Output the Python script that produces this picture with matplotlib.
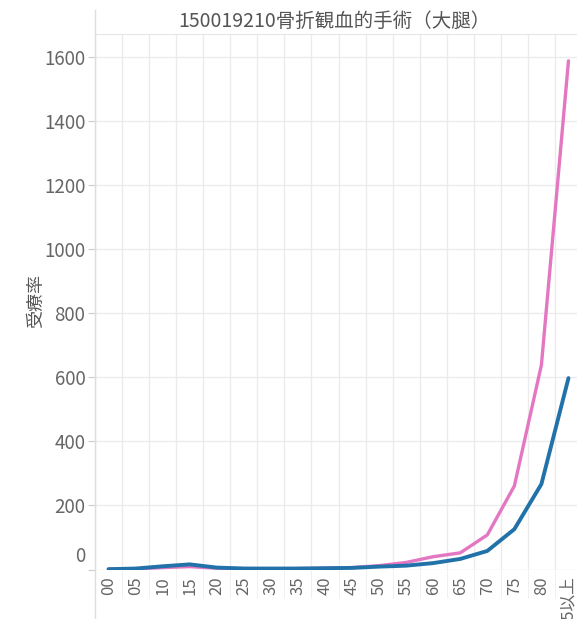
import numpy as np
import matplotlib
matplotlib.use("Agg")
import matplotlib.pyplot as plt
from matplotlib.transforms import ScaledTranslation
from matplotlib.lines import Line2D

plt.rcParams['font.family'] = ['Noto Sans CJK JP', 'DejaVu Sans']

# ===== data =====
ages = ['00', '05', '10', '15', '20', '25', '30', '35', '40', '45',
        '50', '55', '60', '65', '70', '75', '80', '85以上']
pink_vals = [1, 2, 6, 9, 4, 3, 2, 3, 4, 6, 12, 22, 40, 52, 108, 261, 639, 1589]
blue_vals = [1, 3, 10, 16, 6, 3, 3, 3, 4, 5, 9, 12, 20, 33, 58, 126, 267, 598]
yticks = [0, 200, 400, 600, 800, 1000, 1200, 1400, 1600]

W, H = 577, 619
fig = plt.figure(figsize=(W / 100, H / 100), dpi=100)
ax = fig.add_axes([95 / W, (H - 569.5) / H, 487 / W, 535.5 / H])

x = np.arange(len(ages))
ax.plot(x, pink_vals, color='#e377c2', lw=2.4, solid_capstyle='round', zorder=3)
ax.plot(x, blue_vals, color='#2272aa', lw=2.8, solid_capstyle='round', zorder=4)

ax.set_xlim(-0.5, len(ages) - 0.5)
ax.set_ylim(0, 1673)

# grid
ax.set_yticks(yticks)
ax.set_yticklabels([str(v) for v in yticks])
ax.set_xticks(x)
ax.set_xticklabels(ages, rotation=90)
ax.set_xticks(np.arange(-0.5, len(ages)), minor=True)
ax.grid(True, which='major', axis='y', color='#ebebeb', lw=1)
ax.grid(True, which='minor', axis='x', color='#ebebeb', lw=1)
ax.set_axisbelow(True)

ax.tick_params(axis='y', length=5, color='#cccccc', labelsize=13.5,
               labelcolor='#666666', pad=2)
ax.tick_params(axis='x', which='major', length=0, labelsize=12,
               labelcolor='#666666', pad=5)
ax.tick_params(axis='x', which='minor', length=20, color='#eeeeee')

# raise the "0" label like the original
for lab in ax.get_yticklabels():
    if lab.get_text() == '0':
        lab.set_transform(lab.get_transform() +
                          ScaledTranslation(0, 0.15, fig.dpi_scale_trans))

for s in ['right', 'bottom', 'left']:
    ax.spines[s].set_visible(False)
ax.spines['top'].set_color('#e6e6e6')

# left frame line spanning whole height
fig.add_artist(Line2D([95 / W, 95 / W], [0, (H - 10) / H],
                      color='#dddddd', lw=1, transform=fig.transFigure))

fig.text(334 / W, (H - 21) / H, '150019210骨折観血的手術（大腿）',
         ha='center', va='center', fontsize=14, color='#555555')
fig.text(36 / W, (H - 301) / H, '受療率', rotation=90, ha='center',
         va='center', fontsize=13, color='#555555')

fig.savefig('out.png', dpi=100)
